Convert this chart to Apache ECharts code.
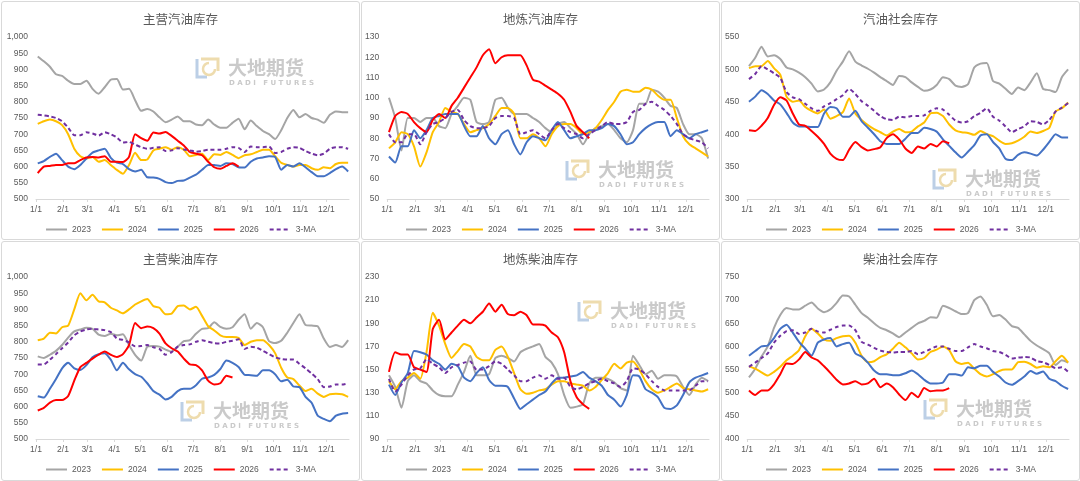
<!DOCTYPE html>
<html>
<head>
<meta charset="utf-8">
<script src="https://cdn.jsdelivr.net/npm/echarts@6/dist/echarts.min.js"></script>
<style>
    body { margin: 0; background: #fff; }
    .panel { position: absolute; width: 357px; height: 237px; border: 1px solid #d9d9d9; border-radius: 3px; }
    .low { height: 238px; }
</style>
</head>
<body>
<div id="chart1" class="panel" style="left:1px;top:1px"></div>
<div id="chart2" class="panel" style="left:361px;top:1px"></div>
<div id="chart3" class="panel" style="left:721px;top:1px"></div>
<div id="chart4" class="panel low" style="left:1px;top:241px"></div>
<div id="chart5" class="panel low" style="left:361px;top:241px"></div>
<div id="chart6" class="panel low" style="left:721px;top:241px"></div>
<script>
var names = ['2023', '2024', '2025', '2026', '3-MA'];
var colors = ['#a5a5a5', '#ffc000', '#4472c4', '#ff0000', '#7030a0'];
var monthDays = [0, 31, 59, 90, 120, 151, 181, 212, 243, 273, 304, 334];
var monthLabels = ['1/1', '2/1', '3/1', '4/1', '5/1', '6/1', '7/1', '8/1', '9/1', '10/1', '11/1', '12/1'];

// 主营汽油库存
var mgGas2023 = [940,925,908,885,880,865,855,855,865,840,825,845,868,870,838,840,805,772,778,770,752,737,745,755,740,740,730,728,745,730,720,720,735,748,715,742,725,710,700,685,712,750,775,752,762,750,745,735,760,770,768,768];
var mgGas2024 = [732,740,745,740,728,700,655,632,625,630,615,620,605,590,578,605,643,620,622,650,655,660,652,660,652,632,636,640,620,638,636,645,636,626,635,638,645,652,652,632,612,605,600,605,605,595,590,598,595,608,612,612];
var mgGas2025 = [610,617,630,640,620,600,592,605,625,643,650,655,627,612,608,592,585,590,567,566,562,552,549,556,557,566,575,590,605,605,602,610,608,598,597,615,625,628,632,630,590,605,600,610,598,583,570,570,580,592,600,585];
var mgGas2026 = [580,600,602,605,605,610,610,620,628,630,628,632,615,615,614,630,700,688,680,705,702,707,695,680,665,645,640,635,615,598,593,602,610,600];
var mgGasMA = [760,758,755,750,740,720,697,697,706,702,696,706,700,690,674,676,668,660,655,658,660,648,650,657,653,650,646,648,652,652,652,655,660,658,645,662,660,660,662,642,645,655,660,658,648,640,635,640,655,660,660,655];

// 地炼汽油库存
var dlGas2023 = [100,90,74,90,90,88,90,90,86,85,92,96,100,99,88,87,88,99,100,95,92,92,92,90,88,85,83,87,88,85,82,77,82,85,86,87,84,80,78,84,97,97,104,103,100,96,95,87,82,82,80,70];
var dlGas2024 = [75,78,83,82,76,66,73,83,88,95,93,92,87,83,84,85,87,91,95,95,92,80,80,82,80,76,82,86,87,87,85,82,83,85,89,94,98,103,104,103,103,105,104,101,99,99,90,81,77,75,73,71];
var dlGas2025 = [71,68,76,76,84,80,84,90,91,92,92,92,86,81,81,86,80,77,82,84,77,72,78,81,80,79,84,88,84,80,81,82,84,84,85,87,86,82,77,78,82,85,87,88,88,81,84,82,80,82,83,84];
var dlGas2026 = [83,91,93,92,88,85,83,89,92,90,96,100,105,110,115,121,124,117,120,121,121,121,116,109,108,106,104,102,99,93,86,83,80];
var dlGasMA = [82,78,78,82,82,77,83,87,88,90,93,94,89,86,85,85,86,90,91,91,90,82,83,84,82,80,84,87,85,83,82,80,82,84,86,88,87,87,88,93,94,97,98,96,94,91,87,82,80,79,78,75];

// 汽油社会库存
var shGas2023 = [505,518,535,520,522,516,503,500,495,488,478,466,469,480,498,512,528,512,506,501,495,488,482,476,490,488,480,473,467,469,476,488,485,475,473,477,503,509,510,482,478,470,462,472,468,480,494,470,468,465,488,500];
var shGas2024 = [502,505,505,513,502,492,458,450,452,442,436,432,438,424,428,434,455,432,422,414,408,403,398,404,408,403,404,412,418,432,433,428,415,406,403,402,399,405,400,397,390,385,386,390,396,404,402,405,410,435,440,449];
var shGas2025 = [450,458,468,462,452,446,433,418,412,412,411,411,432,442,440,427,427,436,420,410,400,389,385,385,385,393,402,402,410,408,404,392,382,372,364,373,383,398,400,388,378,362,360,368,372,370,367,376,388,400,395,395];
var shGas2026 = [406,405,413,425,445,457,452,432,415,413,405,396,385,370,362,360,376,388,380,375,377,380,394,400,392,378,371,381,378,385,381,389,386];
var shGasMA = [485,493,505,500,494,487,465,457,454,447,440,436,443,448,454,460,470,462,451,444,436,428,423,422,427,426,428,428,429,436,440,438,430,421,418,420,428,433,440,427,421,412,403,408,412,420,419,415,422,435,441,448];

// 主营柴油库存
var mgDsl2023 = [755,750,760,772,790,813,832,838,843,840,822,818,825,820,823,790,760,742,785,787,785,776,770,785,802,805,825,840,842,860,846,840,845,868,885,840,858,845,802,796,803,828,858,885,852,850,848,810,784,790,784,805];
var mgDsl2024 = [805,810,828,826,845,850,900,950,928,945,925,922,905,897,888,900,915,925,932,910,905,885,887,910,912,900,908,880,848,835,820,815,815,812,790,800,805,805,790,765,720,690,685,665,648,655,640,630,638,640,638,630];
var mgDsl2025 = [632,628,655,685,718,735,718,713,728,752,762,765,745,712,735,715,700,692,672,648,637,622,630,648,655,655,666,686,690,698,716,742,735,722,698,697,695,712,712,700,678,683,662,660,630,612,572,562,555,572,578,580];
var mgDsl2026 = [588,596,612,620,620,633,680,722,735,748,760,770,760,753,762,790,858,842,847,842,825,795,780,770,748,730,728,712,680,668,672,695,690];
var mgDslMA = [730,730,745,762,780,798,820,832,838,840,838,836,830,810,806,798,786,787,790,783,778,760,768,785,790,792,800,805,800,796,795,800,803,808,778,785,782,772,762,752,747,745,745,732,718,702,685,660,662,668,668,672];

// 地炼柴油库存
var dlDsl2023 = [145,135,117,140,145,140,138,132,128,127,127,137,148,162,145,145,146,160,162,160,157,165,168,170,172,161,156,146,128,117,118,120,138,143,143,142,139,134,132,162,154,146,149,142,145,145,144,135,128,137,143,140];
var dlDsl2024 = [140,133,140,143,147,142,165,199,188,172,160,166,172,170,161,158,158,167,170,161,147,133,129,130,132,133,137,140,140,138,137,136,132,135,141,147,155,151,156,157,150,140,133,130,132,135,138,134,133,132,131,133];
var dlDsl2025 = [137,128,139,147,166,165,163,158,155,150,155,153,143,140,147,152,141,136,136,135,125,116,120,124,128,131,138,143,143,144,145,148,143,140,136,128,124,118,128,145,144,133,130,126,117,116,119,128,139,143,145,147];
var dlDsl2026 = [148,165,163,163,152,150,148,185,193,176,182,188,193,190,195,200,207,200,206,198,197,200,197,189,189,188,182,178,165,140,126,120,116];
var dlDslMA = [142,131,137,145,150,151,159,155,152,147,152,154,156,157,150,150,153,157,155,150,145,140,140,143,145,142,145,142,143,135,133,135,138,140,142,140,138,135,140,151,150,146,140,135,132,132,132,132,132,136,140,140];

// 柴油社会库存
var shDsl2023 = [533,552,578,600,640,668,683,680,680,688,695,682,674,680,694,710,708,690,672,662,650,640,635,628,620,630,640,650,655,663,662,688,683,676,670,672,700,708,690,665,668,658,644,640,626,612,602,594,585,560,570,565];
var shDsl2024 = [557,552,544,537,545,556,570,580,592,622,638,628,615,612,618,622,623,608,580,566,568,577,583,595,608,598,585,572,575,588,593,600,592,568,562,565,552,540,535,540,547,550,550,566,567,562,554,557,555,568,580,565];
var shDsl2025 = [580,590,600,602,618,638,647,630,610,595,580,608,615,618,600,605,608,585,578,565,548,540,540,538,538,542,548,540,528,520,520,522,540,540,537,555,553,558,558,545,535,522,517,525,535,547,541,546,530,525,515,508];
var shDsl2026 = [505,495,505,505,518,540,563,562,572,588,576,570,557,543,528,518,520,525,518,520,530,512,520,512,496,484,500,490,510,503,505,505,510];
var shDslMA = [556,565,575,585,608,623,633,635,627,630,638,632,630,636,642,645,645,635,610,604,597,591,588,587,588,588,590,583,588,594,600,600,595,590,590,598,605,600,596,590,588,582,574,576,577,576,568,566,560,553,555,545];

// 水印
function watermark(x, y) {
    return {
        type: 'group', x: x, y: y, silent: true,
        children: [
            {type: 'polyline', shape: {points: [[2, 2], [2, 20], [12, 20]]}, style: {stroke: '#bccfe6', lineWidth: 3, fill: null}},
            {type: 'polyline', shape: {points: [[6, 2], [23, 2], [23, 14]]}, style: {stroke: '#eedcae', lineWidth: 3, fill: null}},
            {type: 'arc', shape: {cx: 14, cy: 12, r: 6, startAngle: 0, endAngle: Math.PI * 1.5}, style: {stroke: '#eedcae', lineWidth: 2.5, fill: null}},
            {type: 'text', x: 33, y: 1, style: {text: '大地期货', fontSize: 19, fontWeight: 'bold', fontFamily: 'Noto Sans CJK SC', fill: '#cacaca'}},
            {type: 'text', x: 34, y: 23, style: {text: 'D A D I   F U T U R E S', fontSize: 7, fontWeight: 'bold', fontFamily: 'DejaVu Sans', fill: '#cacaca'}}
        ]
    };
}

function makeChart(id, title, left, bottom, yMin, yMax, yStep, list, mark) {
    var myChart = echarts.init(document.getElementById(id));
    var series = list.map(function (arr, k) {
        return {
            name: names[k],
            type: 'line',
            symbol: 'none',
            smooth: 0.2,
            data: arr.map(function (v, i) {
                return [2 + 7 * i, v];
            }),
            lineStyle: {width: 2, color: colors[k], type: k === 4 ? [4, 3] : 'solid'},
            itemStyle: {color: colors[k]}
        };
    });
    var option = {
        animation: false,
        title: {
            text: title,
            left: 'center',
            top: 6,
            textStyle: {fontSize: 12.5, fontWeight: 'normal', color: '#595959', fontFamily: 'Noto Sans CJK SC'}
        },
        legend: {
            data: names,
            left: 'center',
            top: 218,
            itemWidth: 21,
            itemHeight: 8,
            itemGap: 10,
            itemStyle: {opacity: 0},
            textStyle: {fontSize: 8.5, color: '#595959', fontFamily: 'Liberation Sans'}
        },
        grid: {left: left, right: 10, top: 35, bottom: bottom},
        xAxis: {
            type: 'value',
            min: 0,
            max: 360,
            splitLine: {show: false},
            axisLine: {lineStyle: {color: '#d9d9d9'}},
            axisTick: {customValues: monthDays, length: 3, lineStyle: {color: '#d9d9d9'}},
            axisLabel: {
                customValues: monthDays,
                margin: 6,
                fontSize: 8.5,
                color: '#595959',
                fontFamily: 'Liberation Sans',
                formatter: function (v) {
                    return monthLabels[monthDays.indexOf(v)];
                }
            }
        },
        yAxis: {
            type: 'value',
            min: yMin,
            max: yMax,
            interval: yStep,
            splitLine: {show: false},
            axisLine: {show: false},
            axisTick: {show: false},
            axisLabel: {
                margin: 8,
                fontSize: 8.5,
                color: '#595959',
                fontFamily: 'Liberation Sans',
                formatter: function (v) {
                    return v >= 1000 ? v.toLocaleString('en-US') : String(v);
                }
            }
        },
        graphic: [watermark(mark[0], mark[1])],
        series: series
    };
    myChart.setOption(option);
}

makeChart('chart1', '主营汽油库存', 34, 40, 500, 1000, 50, [mgGas2023, mgGas2024, mgGas2025, mgGas2026, mgGasMA], [193, 55]);
makeChart('chart2', '地炼汽油库存', 25, 40, 50, 130, 10, [dlGas2023, dlGas2024, dlGas2025, dlGas2026, dlGasMA], [203, 157]);
makeChart('chart3', '汽油社会库存', 25, 40, 300, 550, 50, [shGas2023, shGas2024, shGas2025, shGas2026, shGasMA], [210, 166]);
makeChart('chart4', '主营柴油库存', 34, 41, 500, 1000, 50, [mgDsl2023, mgDsl2024, mgDsl2025, mgDsl2026, mgDslMA], [178, 158]);
makeChart('chart5', '地炼柴油库存', 25, 41, 90, 230, 20, [dlDsl2023, dlDsl2024, dlDsl2025, dlDsl2026, dlDslMA], [215, 58]);
makeChart('chart6', '柴油社会库存', 25, 41, 400, 750, 50, [shDsl2023, shDsl2024, shDsl2025, shDsl2026, shDslMA], [201, 156]);
</script>
</body>
</html>
